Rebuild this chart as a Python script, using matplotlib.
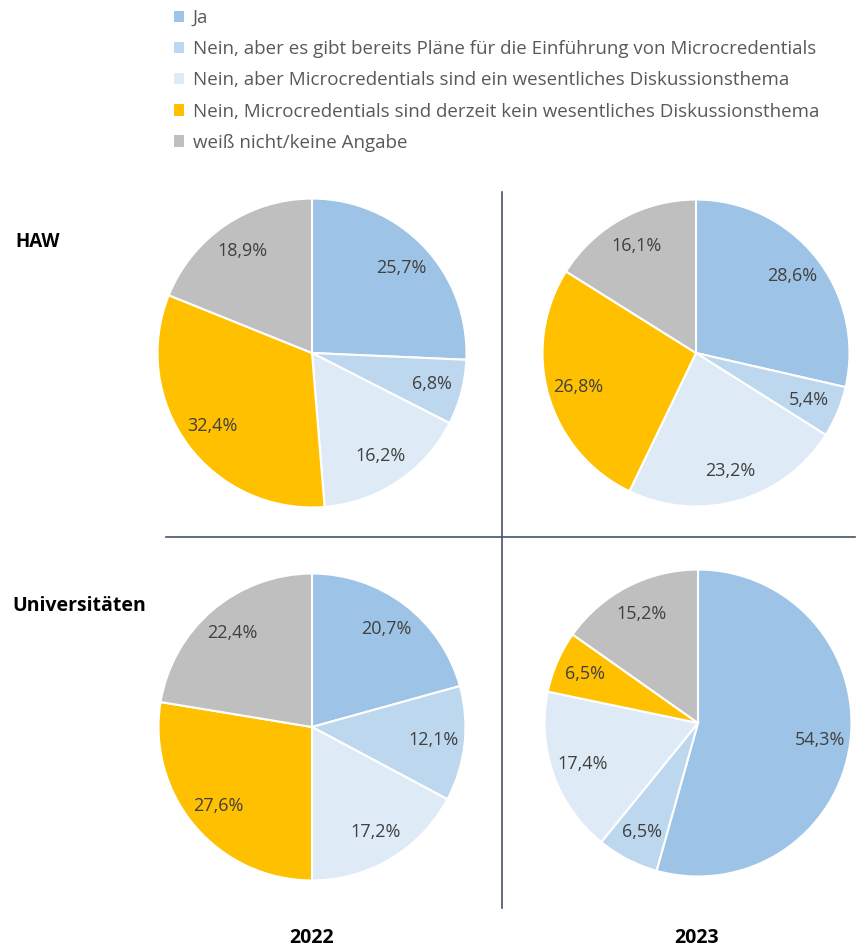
import matplotlib
matplotlib.use("Agg")
import matplotlib.pyplot as plt
from matplotlib.patches import Patch
from matplotlib.lines import Line2D

categories = [
    "Ja",
    "Nein, aber es gibt bereits Pläne für die Einführung von Microcredentials",
    "Nein, aber Microcredentials sind ein wesentliches Diskussionsthema",
    "Nein, Microcredentials sind derzeit kein wesentliches Diskussionsthema",
    "weiß nicht/keine Angabe",
]
colors = ["#9DC3E6", "#BDD7EE", "#DEEBF7", "#FFC000", "#BFBFBF"]

haw_2022 = [25.7, 6.8, 16.2, 32.4, 18.9]
haw_2023 = [28.6, 5.4, 23.2, 26.8, 16.1]
uni_2022 = [20.7, 12.1, 17.2, 27.6, 22.4]
uni_2023 = [54.3, 6.5, 17.4, 6.5, 15.2]

row_labels = ["HAW", "Universitäten"]
col_labels = ["2022", "2023"]

W, H = 862, 948
fig = plt.figure(figsize=(W / 100, H / 100), dpi=100)
plt.rcParams['font.family'] = ['Open Sans', 'DejaVu Sans']

def px_axes(cx, cy, r):
    return fig.add_axes([(cx - r) / W, 1 - (cy + r) / H, 2 * r / W, 2 * r / H])

pies = [
    (haw_2022, 312, 353, 156),
    (haw_2023, 696, 353, 155),
    (uni_2022, 312, 727, 155),
    (uni_2023, 698, 723, 155),
]

def fmt(v):
    return f"{v:.1f}%".replace(".", ",")

for vals, cx, cy, r in pies:
    ax = px_axes(cx, cy, r)
    labels = [fmt(v) for v in vals]
    ax.pie(vals, colors=colors, startangle=90, counterclock=False,
           labels=labels, labeldistance=0.8, radius=1.0,
           wedgeprops=dict(edgecolor="white", linewidth=1.5),
           textprops=dict(color="#404040", fontsize=13))
    for t in ax.texts:
        t.set_ha("center")
        t.set_va("center")
    ax.set_xlim(-1.01, 1.01)
    ax.set_ylim(-1.01, 1.01)
    ax.set_aspect("equal")
    ax.axis("off")

# separator lines
line_color = "#44546A"
fig.add_artist(Line2D([502 / W, 502 / W], [1 - 192 / H, 1 - 908 / H],
                      color=line_color, lw=1.2, transform=fig.transFigure))
fig.add_artist(Line2D([166 / W, 855 / W], [1 - 537 / H, 1 - 537 / H],
                      color=line_color, lw=1.2, transform=fig.transFigure))

# row / column labels
fig.text(15 / W, 1 - 242 / H, row_labels[0], fontsize=13.5, fontweight="bold",
         ha="left", va="center", color="black")
fig.text(12 / W, 1 - 606 / H, row_labels[1], fontsize=14, fontweight="bold",
         ha="left", va="center", color="black")
fig.text(312 / W, 1 - 938 / H, col_labels[0], fontsize=14, fontweight="bold",
         ha="center", va="center", color="black")
fig.text(697 / W, 1 - 938 / H, col_labels[1], fontsize=14, fontweight="bold",
         ha="center", va="center", color="black")

# legend
handles = [Patch(facecolor=c, edgecolor="none") for c in colors]
fig.legend(handles, categories, loc="upper left",
           bbox_to_anchor=(162 / W, 1 + 3 / H), frameon=False,
           fontsize=13.5, labelcolor="#595959", handlelength=0.55,
           handleheight=0.55, handletextpad=0.45, labelspacing=0.7,
           borderpad=0.15)

fig.savefig("out.png", dpi=100, facecolor="white")
